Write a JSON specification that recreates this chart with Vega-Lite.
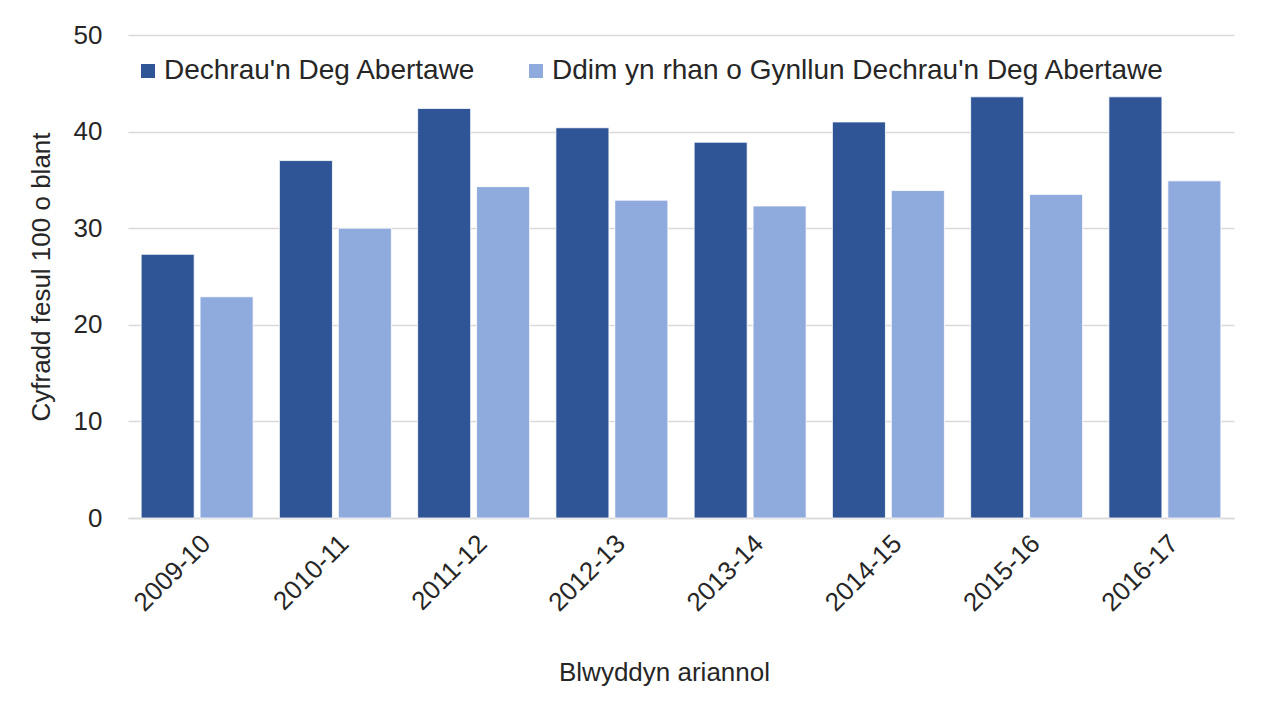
{
  "$schema": "https://vega.github.io/schema/vega-lite/v6.json",
  "width": 1106,
  "height": 483,
  "autosize": {"type": "none"},
  "padding": {"left": 128, "top": 35, "right": 27, "bottom": 183},
  "background": "white",
  "config": {
    "view": {"stroke": null},
    "font": "Liberation Sans"
  },
  "data": {
    "values": [
      {"year": "2009-10", "series": "Dechrau'n Deg Abertawe", "value": 27.3},
      {"year": "2009-10", "series": "Ddim yn rhan o Gynllun Dechrau'n Deg Abertawe", "value": 22.9},
      {"year": "2010-11", "series": "Dechrau'n Deg Abertawe", "value": 37.0},
      {"year": "2010-11", "series": "Ddim yn rhan o Gynllun Dechrau'n Deg Abertawe", "value": 30.0},
      {"year": "2011-12", "series": "Dechrau'n Deg Abertawe", "value": 42.4},
      {"year": "2011-12", "series": "Ddim yn rhan o Gynllun Dechrau'n Deg Abertawe", "value": 34.3},
      {"year": "2012-13", "series": "Dechrau'n Deg Abertawe", "value": 40.4},
      {"year": "2012-13", "series": "Ddim yn rhan o Gynllun Dechrau'n Deg Abertawe", "value": 32.9},
      {"year": "2013-14", "series": "Dechrau'n Deg Abertawe", "value": 38.9},
      {"year": "2013-14", "series": "Ddim yn rhan o Gynllun Dechrau'n Deg Abertawe", "value": 32.3},
      {"year": "2014-15", "series": "Dechrau'n Deg Abertawe", "value": 41.0},
      {"year": "2014-15", "series": "Ddim yn rhan o Gynllun Dechrau'n Deg Abertawe", "value": 33.9},
      {"year": "2015-16", "series": "Dechrau'n Deg Abertawe", "value": 43.6},
      {"year": "2015-16", "series": "Ddim yn rhan o Gynllun Dechrau'n Deg Abertawe", "value": 33.5},
      {"year": "2016-17", "series": "Dechrau'n Deg Abertawe", "value": 43.6},
      {"year": "2016-17", "series": "Ddim yn rhan o Gynllun Dechrau'n Deg Abertawe", "value": 34.9}
    ]
  },
  "mark": {"type": "bar", "stroke": "white", "strokeWidth": 0.8},
  "encoding": {
    "x": {
      "field": "year",
      "type": "nominal",
      "sort": null,
      "scale": {"paddingInner": 0.19, "paddingOuter": 0.095},
      "axis": {
        "title": "Blwyddyn ariannol",
        "titleFontSize": 26,
        "titleFontWeight": "normal",
        "titleColor": "#262626",
        "titleX": 536,
        "titleY": 154,
        "titleAlign": "center",
        "titleBaseline": "middle",
        "labelAngle": -45,
        "labelFontSize": 26,
        "labelColor": "#262626",
        "labelPadding": 12,
        "ticks": false,
        "domain": true,
        "domainColor": "#D9D9D9",
        "domainWidth": 1.3,
        "grid": false
      }
    },
    "xOffset": {
      "field": "series",
      "type": "nominal",
      "sort": ["Dechrau'n Deg Abertawe", "Ddim yn rhan o Gynllun Dechrau'n Deg Abertawe"],
      "scale": {"paddingInner": 0.1, "paddingOuter": 0}
    },
    "y": {
      "field": "value",
      "type": "quantitative",
      "scale": {"domain": [0, 50], "nice": false},
      "axis": {
        "title": "Cyfradd fesul 100 o blant",
        "titleFontSize": 26,
        "titleFontWeight": "normal",
        "titleColor": "#262626",
        "titleX": -87,
        "titleBaseline": "middle",
        "values": [0, 10, 20, 30, 40, 50],
        "labelFontSize": 26,
        "labelColor": "#262626",
        "labelPadding": 26,
        "ticks": false,
        "domain": false,
        "grid": true,
        "gridColor": "#D9D9D9",
        "gridWidth": 1.3
      }
    },
    "color": {
      "field": "series",
      "type": "nominal",
      "scale": {
        "domain": ["Dechrau'n Deg Abertawe", "Ddim yn rhan o Gynllun Dechrau'n Deg Abertawe"],
        "range": ["#2F5597", "#8FAADC"]
      },
      "legend": {
        "title": null,
        "orient": "none",
        "legendX": 6,
        "legendY": 22,
        "direction": "horizontal",
        "padding": 0,
        "symbolType": "square",
        "symbolSize": 196,
        "symbolStrokeWidth": 0,
        "labelFontSize": 28,
        "labelColor": "#262626",
        "labelOffset": 2,
        "labelLimit": 800,
        "columnPadding": 46
      }
    }
  }
}
